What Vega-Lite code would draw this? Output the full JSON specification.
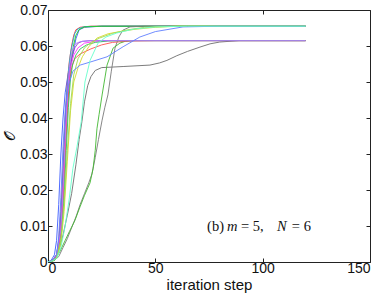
{
  "$schema": "https://vega.github.io/schema/vega-lite/v6.json",
  "autosize": "none",
  "width": 322,
  "height": 252,
  "padding": {"left": 48, "top": 10, "right": 12, "bottom": 34},
  "background": "white",
  "config": {
    "view": {"stroke": "#222", "strokeWidth": 1},
    "axis": {"grid": false, "domain": false, "tickColor": "#222", "tickSize": -4, "labelFont": "Liberation Sans", "labelFontSize": 14, "labelColor": "#111", "titleFont": "Liberation Sans", "titleFontWeight": "normal", "titleColor": "#111"}
  },
  "resolve": {"axis": {"x": "independent", "y": "independent"}},
  "datasets": {
    "one": [{"k": 1}],
    "lines": [
      {"s":"b1","x":0,"y":0},{"s":"b1","x":1.5,"y":0.0005},{"s":"b1","x":3,"y":0.002},{"s":"b1","x":4,"y":0.006},{"s":"b1","x":5,"y":0.016},{"s":"b1","x":6,"y":0.03},{"s":"b1","x":7,"y":0.04},{"s":"b1","x":8,"y":0.047},{"s":"b1","x":9.3,"y":0.052},{"s":"b1","x":10.7,"y":0.0555},{"s":"b1","x":12,"y":0.059},{"s":"b1","x":13,"y":0.062},{"s":"b1","x":14.5,"y":0.0645},{"s":"b1","x":17,"y":0.0652},{"s":"b1","x":25,"y":0.0655},{"s":"b1","x":120,"y":0.0655},
      {"s":"r1","x":0,"y":0},{"s":"r1","x":2,"y":0.0005},{"s":"r1","x":4,"y":0.002},{"s":"r1","x":5,"y":0.006},{"s":"r1","x":6,"y":0.014},{"s":"r1","x":7,"y":0.026},{"s":"r1","x":8,"y":0.04},{"s":"r1","x":9,"y":0.05},{"s":"r1","x":10,"y":0.056},{"s":"r1","x":11,"y":0.06},{"s":"r1","x":12,"y":0.063},{"s":"r1","x":13,"y":0.0645},{"s":"r1","x":15,"y":0.0652},{"s":"r1","x":20,"y":0.0655},{"s":"r1","x":120,"y":0.0655},
      {"s":"c1","x":0,"y":0},{"s":"c1","x":2,"y":0.0004},{"s":"c1","x":4,"y":0.002},{"s":"c1","x":5.5,"y":0.008},{"s":"c1","x":6.5,"y":0.018},{"s":"c1","x":7.5,"y":0.032},{"s":"c1","x":8.5,"y":0.045},{"s":"c1","x":9.5,"y":0.053},{"s":"c1","x":10.5,"y":0.058},{"s":"c1","x":11.5,"y":0.061},{"s":"c1","x":12.5,"y":0.0635},{"s":"c1","x":14,"y":0.0648},{"s":"c1","x":17,"y":0.0654},{"s":"c1","x":25,"y":0.0655},{"s":"c1","x":120,"y":0.0655},
      {"s":"g1","x":0,"y":0},{"s":"g1","x":2,"y":0.0003},{"s":"g1","x":4,"y":0.0015},{"s":"g1","x":5.5,"y":0.006},{"s":"g1","x":7,"y":0.018},{"s":"g1","x":8,"y":0.03},{"s":"g1","x":9,"y":0.042},{"s":"g1","x":10,"y":0.051},{"s":"g1","x":11,"y":0.057},{"s":"g1","x":12,"y":0.0605},{"s":"g1","x":13,"y":0.063},{"s":"g1","x":14.5,"y":0.0646},{"s":"g1","x":17,"y":0.0653},{"s":"g1","x":25,"y":0.0655},{"s":"g1","x":120,"y":0.0655},
      {"s":"grA","x":0,"y":0},{"s":"grA","x":3,"y":0.0008},{"s":"grA","x":5,"y":0.003},{"s":"grA","x":7,"y":0.0075},{"s":"grA","x":9,"y":0.013},{"s":"grA","x":11,"y":0.019},{"s":"grA","x":13,"y":0.027},{"s":"grA","x":14.5,"y":0.034},{"s":"grA","x":15.8,"y":0.039},{"s":"grA","x":17,"y":0.0445},{"s":"grA","x":18.5,"y":0.049},{"s":"grA","x":20,"y":0.0515},{"s":"grA","x":22,"y":0.0532},{"s":"grA","x":25,"y":0.054},{"s":"grA","x":35,"y":0.0543},{"s":"grA","x":47.5,"y":0.0547},{"s":"grA","x":52,"y":0.0553},{"s":"grA","x":55.4,"y":0.056},{"s":"grA","x":60,"y":0.0573},{"s":"grA","x":65,"y":0.0585},{"s":"grA","x":70.8,"y":0.0597},{"s":"grA","x":75.5,"y":0.0606},{"s":"grA","x":80,"y":0.0611},{"s":"grA","x":89,"y":0.0615},{"s":"grA","x":120,"y":0.0615},
      {"s":"grC","x":0,"y":0},{"s":"grC","x":3,"y":0.0005},{"s":"grC","x":5,"y":0.0015},{"s":"grC","x":7,"y":0.004},{"s":"grC","x":9,"y":0.0065},{"s":"grC","x":11,"y":0.0095},{"s":"grC","x":13,"y":0.0125},{"s":"grC","x":15,"y":0.016},{"s":"grC","x":17,"y":0.019},{"s":"grC","x":19,"y":0.022},{"s":"grC","x":20.5,"y":0.0245},{"s":"grC","x":22,"y":0.029},{"s":"grC","x":23.5,"y":0.034},{"s":"grC","x":25.2,"y":0.0394},{"s":"grC","x":26.5,"y":0.043},{"s":"grC","x":27.9,"y":0.0464},{"s":"grC","x":29.5,"y":0.053},{"s":"grC","x":31.2,"y":0.0594},{"s":"grC","x":33,"y":0.0625},{"s":"grC","x":34.9,"y":0.0644},{"s":"grC","x":38.2,"y":0.0653},{"s":"grC","x":45,"y":0.0655},{"s":"grC","x":120,"y":0.0655},
      {"s":"gB","x":0,"y":0},{"s":"gB","x":3,"y":0.0004},{"s":"gB","x":5.6,"y":0.003},{"s":"gB","x":8,"y":0.006},{"s":"gB","x":10,"y":0.0085},{"s":"gB","x":12.5,"y":0.0115},{"s":"gB","x":14.9,"y":0.0153},{"s":"gB","x":17,"y":0.0185},{"s":"gB","x":19.6,"y":0.022},{"s":"gB","x":21,"y":0.026},{"s":"gB","x":22,"y":0.031},{"s":"gB","x":22.8,"y":0.037},{"s":"gB","x":23.8,"y":0.041},{"s":"gB","x":25.2,"y":0.0464},{"s":"gB","x":27.5,"y":0.0547},{"s":"gB","x":30.3,"y":0.0594},{"s":"gB","x":33.5,"y":0.0608},{"s":"gB","x":36,"y":0.0613},{"s":"gB","x":39.6,"y":0.0615},{"s":"gB","x":120,"y":0.0615},
      {"s":"p1","x":0,"y":0},{"s":"p1","x":2,"y":0.0004},{"s":"p1","x":4,"y":0.002},{"s":"p1","x":5.5,"y":0.007},{"s":"p1","x":6.5,"y":0.016},{"s":"p1","x":7.5,"y":0.03},{"s":"p1","x":8.5,"y":0.043},{"s":"p1","x":9.5,"y":0.051},{"s":"p1","x":10.5,"y":0.055},{"s":"p1","x":11.5,"y":0.0575},{"s":"p1","x":12.5,"y":0.0595},{"s":"p1","x":14,"y":0.0608},{"s":"p1","x":16,"y":0.0613},{"s":"p1","x":20,"y":0.0615},{"s":"p1","x":120,"y":0.0615},
      {"s":"m1","x":0,"y":0},{"s":"m1","x":2,"y":0.0003},{"s":"m1","x":4,"y":0.0015},{"s":"m1","x":5.5,"y":0.006},{"s":"m1","x":6.5,"y":0.013},{"s":"m1","x":7.5,"y":0.025},{"s":"m1","x":8.5,"y":0.038},{"s":"m1","x":9.5,"y":0.048},{"s":"m1","x":10.5,"y":0.054},{"s":"m1","x":12,"y":0.0575},{"s":"m1","x":14,"y":0.0595},{"s":"m1","x":17,"y":0.0608},{"s":"m1","x":22,"y":0.0613},{"s":"m1","x":30,"y":0.0615},{"s":"m1","x":120,"y":0.0615},
      {"s":"r2","x":0,"y":0},{"s":"r2","x":2,"y":0.0003},{"s":"r2","x":4,"y":0.0015},{"s":"r2","x":6,"y":0.008},{"s":"r2","x":7,"y":0.017},{"s":"r2","x":8,"y":0.03},{"s":"r2","x":9,"y":0.042},{"s":"r2","x":10,"y":0.05},{"s":"r2","x":11,"y":0.054},{"s":"r2","x":12.5,"y":0.0565},{"s":"r2","x":15,"y":0.0578},{"s":"r2","x":20,"y":0.0592},{"s":"r2","x":25,"y":0.0603},{"s":"r2","x":30,"y":0.061},{"s":"r2","x":38,"y":0.0614},{"s":"r2","x":50,"y":0.0615},{"s":"r2","x":120,"y":0.0615},
      {"s":"g2","x":0,"y":0},{"s":"g2","x":2,"y":0.0003},{"s":"g2","x":4,"y":0.0012},{"s":"g2","x":6,"y":0.006},{"s":"g2","x":7.5,"y":0.018},{"s":"g2","x":8.5,"y":0.031},{"s":"g2","x":9.5,"y":0.043},{"s":"g2","x":10.5,"y":0.051},{"s":"g2","x":11.5,"y":0.055},{"s":"g2","x":13,"y":0.0575},{"s":"g2","x":15,"y":0.0592},{"s":"g2","x":18,"y":0.0603},{"s":"g2","x":22,"y":0.061},{"s":"g2","x":28,"y":0.0614},{"s":"g2","x":40,"y":0.0615},{"s":"g2","x":120,"y":0.0615},
      {"s":"v1","x":0,"y":0},{"s":"v1","x":2,"y":0.0004},{"s":"v1","x":4,"y":0.002},{"s":"v1","x":6,"y":0.009},{"s":"v1","x":7,"y":0.02},{"s":"v1","x":8,"y":0.034},{"s":"v1","x":9,"y":0.046},{"s":"v1","x":10,"y":0.054},{"s":"v1","x":11,"y":0.058},{"s":"v1","x":12,"y":0.0598},{"s":"v1","x":13,"y":0.0607},{"s":"v1","x":15,"y":0.0612},{"s":"v1","x":20,"y":0.0615},{"s":"v1","x":120,"y":0.0615},
      {"s":"y1","x":0,"y":0},{"s":"y1","x":2,"y":0.0003},{"s":"y1","x":4,"y":0.0012},{"s":"y1","x":6,"y":0.005},{"s":"y1","x":7.5,"y":0.014},{"s":"y1","x":9,"y":0.028},{"s":"y1","x":10.5,"y":0.042},{"s":"y1","x":12,"y":0.05},{"s":"y1","x":14,"y":0.054},{"s":"y1","x":16,"y":0.057},{"s":"y1","x":19,"y":0.0598},{"s":"y1","x":22.8,"y":0.0622},{"s":"y1","x":28,"y":0.0634},{"s":"y1","x":33.5,"y":0.064},{"s":"y1","x":40,"y":0.0646},{"s":"y1","x":50,"y":0.0652},{"s":"y1","x":60,"y":0.0655},{"s":"y1","x":120,"y":0.0655},
      {"s":"lg","x":0,"y":0},{"s":"lg","x":2,"y":0.0003},{"s":"lg","x":4,"y":0.0012},{"s":"lg","x":6,"y":0.006},{"s":"lg","x":7.5,"y":0.016},{"s":"lg","x":9,"y":0.031},{"s":"lg","x":10.5,"y":0.044},{"s":"lg","x":12,"y":0.052},{"s":"lg","x":14,"y":0.0565},{"s":"lg","x":17,"y":0.0595},{"s":"lg","x":20,"y":0.061},{"s":"lg","x":24,"y":0.0622},{"s":"lg","x":30,"y":0.0635},{"s":"lg","x":37,"y":0.0645},{"s":"lg","x":45,"y":0.0652},{"s":"lg","x":60,"y":0.0655},{"s":"lg","x":120,"y":0.0655},
      {"s":"b2","x":0,"y":0},{"s":"b2","x":2,"y":0.0004},{"s":"b2","x":4,"y":0.002},{"s":"b2","x":5,"y":0.007},{"s":"b2","x":6,"y":0.018},{"s":"b2","x":7,"y":0.032},{"s":"b2","x":8,"y":0.042},{"s":"b2","x":9.5,"y":0.049},{"s":"b2","x":11.6,"y":0.053},{"s":"b2","x":15,"y":0.0547},{"s":"b2","x":20,"y":0.0556},{"s":"b2","x":27.5,"y":0.057},{"s":"b2","x":35,"y":0.0598},{"s":"b2","x":42.8,"y":0.0625},{"s":"b2","x":50,"y":0.064},{"s":"b2","x":62.9,"y":0.0653},{"s":"b2","x":80,"y":0.0655},{"s":"b2","x":120,"y":0.0655},
      {"s":"aq","x":0,"y":0},{"s":"aq","x":2,"y":0.0003},{"s":"aq","x":4,"y":0.001},{"s":"aq","x":6,"y":0.004},{"s":"aq","x":8,"y":0.01},{"s":"aq","x":10,"y":0.018},{"s":"aq","x":11.6,"y":0.026},{"s":"aq","x":13.5,"y":0.032},{"s":"aq","x":15.5,"y":0.039},{"s":"aq","x":17.2,"y":0.05},{"s":"aq","x":19.6,"y":0.056},{"s":"aq","x":23.3,"y":0.0608},{"s":"aq","x":27,"y":0.0625},{"s":"aq","x":32,"y":0.0636},{"s":"aq","x":40,"y":0.0647},{"s":"aq","x":50,"y":0.0653},{"s":"aq","x":65,"y":0.0655},{"s":"aq","x":120,"y":0.0655}
    ]
  },
  "layer": [
    {
      "data": {"name": "lines"},
      "mark": {"type": "line", "strokeWidth": 1, "opacity": 0.9, "clip": true},
      "encoding": {
        "x": {"field": "x", "type": "quantitative", "scale": {"domain": [0, 150], "nice": false}, "axis": {"orient": "bottom", "values": [0, 50, 100, 150], "title": "iteration step", "titleFontSize": 15, "titlePadding": 2, "labelPadding": 3}},
        "y": {"field": "y", "type": "quantitative", "scale": {"domain": [0, 0.07], "nice": false}, "axis": {"orient": "left", "values": [0, 0.01, 0.02, 0.03, 0.04, 0.05, 0.06, 0.07], "labelExpr": "datum.value === 0 ? '0' : format(datum.value, '.2f')", "title": "𝒪", "titleFont": "DejaVu Serif", "titleFontSize": 15, "titlePadding": 2, "labelPadding": 5}},
        "color": {"field": "s", "type": "nominal", "legend": null, "scale": {
          "domain": ["b1","r1","c1","g1","grA","grC","gB","p1","m1","r2","g2","v1","y1","lg","b2","aq"],
          "range": ["#3b5bff","#ff2a2a","#22b8e0","#22cc22","#6e6e6e","#7a7a7a","#44b833","#8e44cc","#ff33ff","#ff5050","#33c060","#b57aff","#d8d830","#a0dc50","#6080ff","#66ffcc"]}},
        "detail": {"field": "s"}
      }
    },
    {
      "data": {"name": "lines"},
      "mark": {"type": "line", "opacity": 0, "strokeWidth": 0},
      "encoding": {
        "x": {"field": "x", "type": "quantitative", "axis": {"orient": "top", "labels": false, "title": null, "values": [0, 50, 100, 150]}},
        "y": {"field": "y", "type": "quantitative", "axis": {"orient": "right", "labels": false, "title": null, "values": [0, 0.01, 0.02, 0.03, 0.04, 0.05, 0.06, 0.07]}},
        "detail": {"field": "s"}
      }
    },
    {
      "data": {"name": "one"},
      "mark": {"type": "text", "font": "Liberation Serif", "fontSize": 14.5, "align": "left", "baseline": "alphabetic", "text": "(b)", "color": "#111"},
      "encoding": {"x": {"datum": 74.1, "type": "quantitative", "axis": null}, "y": {"datum": 0.0086, "type": "quantitative", "axis": null}}
    },
    {
      "data": {"name": "one"},
      "mark": {"type": "text", "font": "Liberation Serif", "fontSize": 14.5, "fontStyle": "italic", "align": "left", "baseline": "alphabetic", "text": "m", "color": "#111"},
      "encoding": {"x": {"datum": 83.4, "type": "quantitative", "axis": null}, "y": {"datum": 0.0086, "type": "quantitative", "axis": null}}
    },
    {
      "data": {"name": "one"},
      "mark": {"type": "text", "font": "Liberation Serif", "fontSize": 14.5, "align": "left", "baseline": "alphabetic", "text": "= 5,", "color": "#111"},
      "encoding": {"x": {"datum": 89.9, "type": "quantitative", "axis": null}, "y": {"datum": 0.0086, "type": "quantitative", "axis": null}}
    },
    {
      "data": {"name": "one"},
      "mark": {"type": "text", "font": "Liberation Serif", "fontSize": 14.5, "fontStyle": "italic", "align": "left", "baseline": "alphabetic", "text": "N", "color": "#111"},
      "encoding": {"x": {"datum": 106.7, "type": "quantitative", "axis": null}, "y": {"datum": 0.0086, "type": "quantitative", "axis": null}}
    },
    {
      "data": {"name": "one"},
      "mark": {"type": "text", "font": "Liberation Serif", "fontSize": 14.5, "align": "left", "baseline": "alphabetic", "text": "= 6", "color": "#111"},
      "encoding": {"x": {"datum": 113.6, "type": "quantitative", "axis": null}, "y": {"datum": 0.0086, "type": "quantitative", "axis": null}}
    }
  ]
}
